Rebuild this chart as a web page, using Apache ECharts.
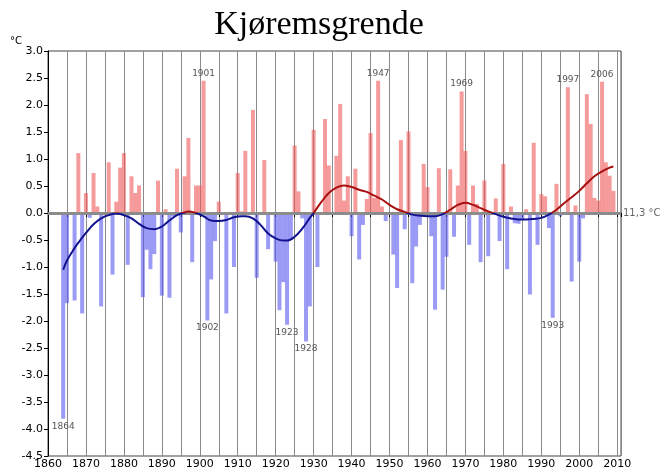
<!DOCTYPE html>
<html>
<head>
<meta charset="utf-8">
<title>Kjøremsgrende</title>
<script src="https://cdn.jsdelivr.net/npm/echarts@6/dist/echarts.min.js"></script>
<style>
  html, body { margin: 0; padding: 0; background: #fff; }
  #chart { width: 661px; height: 475px; }
</style>
</head>
<body>
<div id="chart"></div>
<script>
// Annual temperature deviation (°C) from the 11,3 °C normal, 1864–2009
const firstYear = 1864;
const deviations = [
  // 1864–1869
  -3.81, -1.67, -0.02, -1.62, 1.11, -1.86,
  // 1870s
  0.37, -0.09, 0.74, 0.12, -1.73, 0.02, 0.94, -1.14, 0.21, 0.84,
  // 1880s
  1.11, -0.96, 0.68, 0.37, 0.51, -1.56, -0.68, -1.04, -0.76, 0.60,
  // 1890s
  -1.53, 0.07, -1.57, -0.06, 0.82, -0.36, 0.68, 1.39, -0.91, 0.51,
  // 1900s
  0.51, 2.45, -1.99, -1.23, -0.52, 0.21, -0.02, -1.86, 0.02, -1.00,
  // 1910s
  0.74, 0.03, 1.15, -0.02, 1.91, -1.20, 0.02, 0.98, -0.67, -0.03,
  // 1920s
  -0.90, -1.80, -1.28, -2.07, -0.50, 1.25, 0.40, -0.10, -2.38, -1.73,
  // 1930s
  1.54, -1.00, 0.02, 1.74, 0.88, 0.02, 1.06, 2.02, 0.23, 0.68,
  // 1940s
  -0.43, 0.82, -0.86, -0.22, 0.26, 1.48, 0.28, 2.45, 0.12, -0.15,
  // 1950s
  0.02, -0.77, -1.39, 1.35, -0.30, 1.51, -1.30, -0.62, -0.22, 0.91,
  // 1960s
  0.48, -0.43, -1.79, 0.83, -1.42, -0.81, 0.81, -0.44, 0.51, 2.25,
  // 1970s
  1.15, -0.59, 0.51, 0.17, -0.91, 0.60, -0.80, 0.02, 0.27, -0.52,
  // 1980s
  0.91, -1.04, 0.12, -0.19, -0.20, -0.12, 0.07, -1.51, 1.30, -0.59,
  // 1990s
  0.35, 0.31, -0.28, -1.94, 0.54, -0.06, 0.02, 2.33, -1.27, 0.14,
  // 2000s
  -0.90, -0.10, 2.20, 1.65, 0.28, 0.23, 2.43, 0.94, 0.69, 0.41
];
const years = deviations.map((_, i) => firstYear + i);

// Smoothed trend curve
const trendYears = [
  1864, 1865, 1867, 1868, 1870, 1872, 1874, 1876, 1878, 1880,
  1882, 1884, 1886, 1888, 1890, 1892, 1894, 1896, 1897, 1899,
  1901, 1903, 1905, 1907, 1909, 1911, 1912, 1914, 1916, 1918,
  1920, 1922, 1923, 1925, 1927, 1929, 1930, 1932, 1934, 1936,
  1938, 1940, 1942, 1944, 1946, 1948, 1950, 1952, 1954, 1956,
  1958, 1960, 1962, 1964, 1966, 1968, 1970, 1972, 1974, 1976,
  1978, 1980, 1982, 1984, 1986, 1988, 1990, 1992, 1994, 1996,
  1998, 2000, 2002, 2004, 2006, 2008, 2009
];
const trendValues = [
  -1.05, -0.88, -0.65, -0.55, -0.37, -0.21, -0.10, -0.04, -0.01, -0.04,
  -0.10, -0.20, -0.28, -0.30, -0.25, -0.14, -0.04, 0.01, 0.03, 0.00,
  -0.06, -0.14, -0.15, -0.13, -0.08, -0.06, -0.06, -0.10, -0.22, -0.38,
  -0.47, -0.51, -0.51, -0.44, -0.29, -0.09, 0.00, 0.20, 0.37, 0.47,
  0.51, 0.48, 0.43, 0.39, 0.32, 0.25, 0.15, 0.07, 0.02, -0.03,
  -0.05, -0.06, -0.06, -0.02, 0.06, 0.15, 0.19, 0.15, 0.09, 0.03,
  -0.02, -0.07, -0.10, -0.12, -0.12, -0.11, -0.09, -0.03, 0.06, 0.18,
  0.29, 0.41, 0.55, 0.68, 0.77, 0.84, 0.86
];

// Extreme years that get a year tag next to their bar
const taggedYears = [1864, 1901, 1902, 1923, 1928, 1947, 1969, 1993, 1997, 2006];

// Axis tick labels
const xTickLabels = [1860, 1870, 1880, 1890, 1900, 1910, 1920, 1930, 1940, 1950, 1960, 1970, 1980, 1990, 2000, 2010];
const yTickLabels = [3.0, 2.5, 2.0, 1.5, 1.0, 0.5, 0.0, -0.5, -1.0, -1.5, -2.0, -2.5, -3.0, -3.5, -4.0, -4.5];

const normalLabel = '11,3 °C';
const warmColor = 'rgba(240, 88, 88, 0.6)';
const coldColor = 'rgba(88, 88, 240, 0.6)';
const trendWarm = '#a80f0f';
const trendCold = '#12128f';
const axisFont = 'DejaVu Sans';

const barData = years.map((y, i) => {
  const v = deviations[i];
  const item = { value: [y, v] };
  if (taggedYears.includes(y)) {
    item.label = {
      show: true,
      position: v >= 0 ? 'top' : 'bottom',
      distance: 3,
      formatter: String(y),
      color: '#555',
      fontSize: 9,
      fontFamily: axisFont
    };
  }
  return item;
});

const chart = echarts.init(document.getElementById('chart'), null, { renderer: 'canvas' });

const option = {
  animation: false,
  backgroundColor: '#fff',
  title: {
    text: 'Kjøremsgrende',
    left: 314,
    top: 3,
    textAlign: 'center',
    textStyle: {
      fontFamily: 'Liberation Serif',
      fontSize: 34,
      fontWeight: 'normal',
      color: '#000'
    }
  },
  graphic: [{
    type: 'text',
    left: 10,
    top: 36,
    style: { text: '°C', font: '10px "DejaVu Sans"', fill: '#000' }
  }],
  grid: {
    left: 48, right: 40, top: 51, bottom: 19,
    show: true,
    borderColor: '#444',
    borderWidth: 1
  },
  xAxis: {
    type: 'value',
    min: 1860,
    max: 2011,
    interval: 5,
    axisLine: { show: true, lineStyle: { color: '#000', width: 1 } },
    axisTick: { show: true, length: 4, lineStyle: { color: '#000' } },
    axisLabel: {
      color: '#000',
      fontFamily: axisFont,
      fontSize: 11,
      margin: 3,
      formatter: v => (xTickLabels.includes(v) ? String(v) : '')
    },
    splitLine: { show: true, lineStyle: { color: '#8a8a8a', width: 1 } }
  },
  yAxis: {
    type: 'value',
    min: -4.5,
    max: 3,
    interval: 0.5,
    axisLine: { show: true, lineStyle: { color: '#000', width: 1 } },
    axisTick: { show: true, length: 4, lineStyle: { color: '#000' } },
    axisLabel: {
      color: '#000',
      fontFamily: axisFont,
      fontSize: 11,
      margin: 5,
      formatter: v => {
        const hit = yTickLabels.find(t => Math.abs(t - v) < 1e-9);
        return hit === undefined ? '' : hit.toFixed(1);
      }
    },
    splitLine: { show: false }
  },
  series: [
    {
      type: 'bar',
      barWidth: 4,
      data: barData,
      itemStyle: {
        color: p => (p.value[1] >= 0 ? warmColor : coldColor)
      },
      markLine: {
        silent: true,
        symbol: 'none',
        data: [{ yAxis: 0 }],
        lineStyle: { color: '#8c8c8c', width: 3, type: 'solid' },
        label: {
          show: true,
          position: 'end',
          distance: 2,
          formatter: normalLabel,
          color: '#666',
          fontSize: 10,
          fontFamily: axisFont
        }
      }
    },
    {
      type: 'line',
      data: trendYears.map((y, i) => [y, trendValues[i]]),
      smooth: 0.4,
      symbol: 'none',
      z: 5,
      lineStyle: { width: 2, color: trendCold }
    }
  ]
};

chart.setOption(option);

// Colour the trend curve red above the zero line and blue below it,
// using a gradient with a hard stop at the pixel row of y = 0.
const yTop = chart.convertToPixel({ gridIndex: 0 }, [1860, 3])[1];
const yBottom = chart.convertToPixel({ gridIndex: 0 }, [1860, -4.5])[1];
const yZero = chart.convertToPixel({ gridIndex: 0 }, [1860, 0])[1];
const split = (yZero - yTop) / (yBottom - yTop);
chart.setOption({
  series: [{}, {
    lineStyle: {
      color: {
        type: 'linear',
        x: 0, y: yTop, x2: 0, y2: yBottom,
        global: true,
        colorStops: [
          { offset: 0, color: trendWarm },
          { offset: split, color: trendWarm },
          { offset: split, color: trendCold },
          { offset: 1, color: trendCold }
        ]
      }
    }
  }]
});
</script>
</body>
</html>
